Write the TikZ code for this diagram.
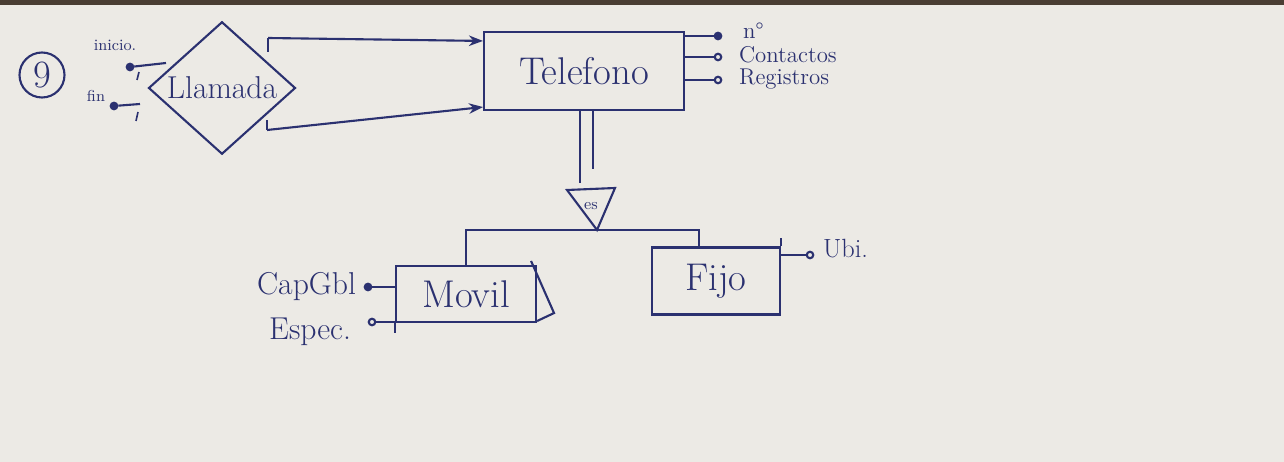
\documentclass[tikz,border=0pt]{standalone}
\usetikzlibrary{shapes.geometric,arrows.meta,calc}
\definecolor{ink}{HTML}{2B3170}
\definecolor{paper}{HTML}{ECEAE5}
\definecolor{edge}{HTML}{4A3E33}
\begin{document}
\begin{tikzpicture}[x=0.02cm,y=-0.02cm,line width=1.2pt,color=ink,
  ent/.style={draw,rectangle,inner sep=0pt},
  att/.style={circle,draw,inner sep=0pt,minimum size=0.13cm,fill=paper},
  katt/.style={att,fill=ink},
  lbl/.style={inner sep=0pt,anchor=west},
  arr/.style={-{Stealth[length=8pt,width=6pt]}},
  f9/.style={font=\fontsize{9}{10}\selectfont},
  f13/.style={font=\fontsize{13}{14}\selectfont},
  f15/.style={font=\fontsize{15}{17}\selectfont},
  f18/.style={font=\fontsize{18}{20}\selectfont},
  f22/.style={font=\fontsize{22}{24}\selectfont}]
\fill[paper] (0,0) rectangle (1284,462);
\fill[edge] (0,0) rectangle (1284,5);
\useasboundingbox (0,0) rectangle (1284,462);

% nodes
\node[draw,circle,minimum size=0.9cm,inner sep=0pt,f22] (n9) at (42,75) {9};
\node[draw,diamond,minimum width=2.94cm,minimum height=2.1cm,inner sep=0pt,f18] (rel) at (222,88) {Llamada};
\node[ent,minimum width=4cm,minimum height=1.56cm,f22] (tel) at (584,71) {Telefono};
\node[ent,minimum width=2.8cm,minimum height=1.12cm,f22] (mov) at (466,294) {Movil};
\node[ent,minimum width=2.56cm,minimum height=1.34cm,f22] (fijo) at (716,281) {Fijo};

% relation attributes
\node[f9] (tIni) at (115,45) {inicio.};
\node[f9] (tFin) at (96,96) {fin};
\node[katt] (aIni) at (130,67) {};
\coordinate (rIni) at (166,63);
\draw (aIni) -- (rIni);
\node[katt] (aFin) at (114,106) {};
\coordinate (rFin) at (140,104);
\draw (aFin) -- (rFin);
\draw[line width=0.9pt] (139,72) -- (137,80);
\draw[line width=0.9pt] (138,112) -- (136,121);

% relation to Telefono
\coordinate (t1) at (268,38);
\coordinate (t2) at (267,130);
\draw (t1) -- ++(0,14);
\draw (t2) -- ++(0,-10);
\draw[arr] (t1) -- ([yshift=-0.2cm]tel.north west);
\draw[arr] (t2) -- ([yshift=0.08cm]tel.south west);

% Telefono attributes
\node[katt] (aNum) at (718,36) {};
\node[att] (aCon) at (718,57) {};
\node[att] (aReg) at (718,80) {};
\draw (aNum) -- (tel.east |- aNum);
\draw (aCon) -- (tel.east |- aCon);
\draw (aReg) -- (tel.east |- aReg);
\node[lbl,f13] (tNum) at (742,31) {n°};
\node[lbl,f13] (tCon) at (738,55) {Contactos};
\node[lbl,f13] (tReg) at (738,79) {Registros};

% specialisation
\coordinate (isaA) at (567,190);
\coordinate (isaB) at (615,188);
\coordinate (isa) at (597,230);
\draw (isaA) -- (isaB) -- (isa) -- cycle;
\node[f9] (es) at (591,206) {es};
\draw ([xshift=-0.08cm]tel.south) -- ++(0,72);
\draw ([xshift=0.18cm]tel.south) -- ++(0,58);
\draw (mov.north) |- (isa) -| ([xshift=-0.34cm]fijo.north);
\draw ($(mov.north east)+(-6,-4)$) -- ($(mov.south east)+(17,-10)$) -- ($(mov.south east)+(0,-2)$);
\draw (mov.south west) -- ++(0,10);
\draw (fijo.north east) -- ++(0,-8);

% Movil attributes
\node[katt] (aCap) at (368,287) {};
\draw (aCap) -- (mov.west |- aCap);
\node[lbl,anchor=east,f18] (tCap) at (357,287) {CapGbl};
\node[att] (aEsp) at (372,322) {};
\draw (aEsp) -- (mov.west |- aEsp);
\node[lbl,anchor=east,f18] (tEsp) at (352,332) {Espec.};

% Fijo attribute
\node[att] (aUbi) at (810,255) {};
\draw (aUbi) -- (fijo.east |- aUbi);
\node[lbl,f15] (tUbi) at (822,249) {Ubi.};
\end{tikzpicture}
\end{document}
